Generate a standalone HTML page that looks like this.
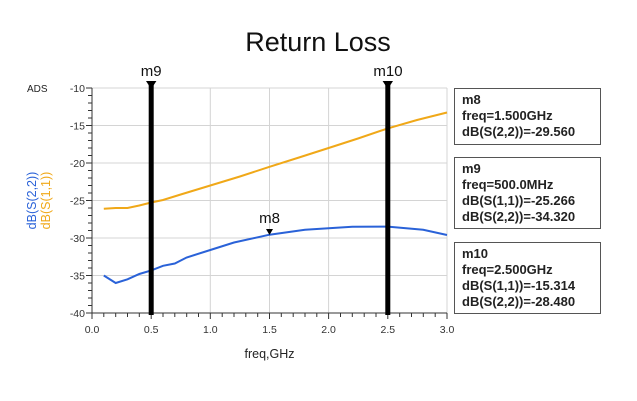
<!DOCTYPE html>
<html><head><meta charset="utf-8"><style>
html,body{margin:0;padding:0;background:#fff;}
svg{display:block;font-family:"Liberation Sans",sans-serif;}
</style></head><body>
<svg width="637" height="401" viewBox="0 0 637 401" xmlns="http://www.w3.org/2000/svg">
<rect width="637" height="401" fill="#fff"/>
<text x="318" y="51" font-size="27" text-anchor="middle" fill="#111">Return Loss</text>
<text x="27" y="92" font-size="10" fill="#222">ADS</text>
<g stroke="#d4d4d4" stroke-width="1">
<line x1="92" y1="88" x2="447" y2="88"/>
<line x1="92" y1="125.5" x2="447" y2="125.5"/>
<line x1="92" y1="163" x2="447" y2="163"/>
<line x1="92" y1="200.5" x2="447" y2="200.5"/>
<line x1="92" y1="238" x2="447" y2="238"/>
<line x1="92" y1="275.5" x2="447" y2="275.5"/>
<line x1="151.2" y1="88" x2="151.2" y2="313"/>
<line x1="210.3" y1="88" x2="210.3" y2="313"/>
<line x1="269.5" y1="88" x2="269.5" y2="313"/>
<line x1="328.6" y1="88" x2="328.6" y2="313"/>
<line x1="387.8" y1="88" x2="387.8" y2="313"/>
<line x1="447" y1="88" x2="447" y2="313"/>
</g>
<g stroke="#333" stroke-width="1">
<line x1="92" y1="88" x2="92" y2="313"/>
<line x1="92" y1="313" x2="447" y2="313"/>
</g>
<g stroke="#333" stroke-width="1">
<path d="M86 88H92M88 95.5H92M88 103H92M88 110.5H92M88 118H92M86 125.5H92M88 133H92M88 140.5H92M88 148H92M88 155.5H92M86 163H92M88 170.5H92M88 178H92M88 185.5H92M88 193H92M86 200.5H92M88 208H92M88 215.5H92M88 223H92M88 230.5H92M86 238H92M88 245.5H92M88 253H92M88 260.5H92M88 268H92M86 275.5H92M88 283H92M88 290.5H92M88 298H92M88 305.5H92M86 313H92"/>
<path d="M92 313V319M103.8 313V317M115.7 313V317M127.5 313V317M139.3 313V317M151.2 313V319M163 313V317M174.8 313V317M186.7 313V317M198.5 313V317M210.3 313V319M222.2 313V317M234 313V317M245.8 313V317M257.7 313V317M269.5 313V319M281.3 313V317M293.2 313V317M305 313V317M316.8 313V317M328.6 313V319M340.5 313V317M352.3 313V317M364.2 313V317M376 313V317M387.8 313V319M399.7 313V317M411.5 313V317M423.3 313V317M435.2 313V317M447 313V319"/>
</g>
<g font-size="10.5" fill="#333" text-anchor="end">
<text x="85" y="92">-10</text><text x="85" y="129.5">-15</text><text x="85" y="167">-20</text>
<text x="85" y="204.5">-25</text><text x="85" y="242">-30</text><text x="85" y="279.5">-35</text><text x="85" y="317">-40</text>
</g>
<g font-size="10.5" fill="#333" text-anchor="middle">
<text x="92" y="333">0.0</text><text x="151.2" y="333">0.5</text><text x="210.3" y="333">1.0</text>
<text x="269.5" y="333">1.5</text><text x="328.6" y="333">2.0</text><text x="387.8" y="333">2.5</text><text x="447" y="333">3.0</text>
</g>
<text x="269.5" y="358" font-size="12.5" text-anchor="middle" fill="#222">freq,GHz</text>
<text transform="translate(36,200.5) rotate(-90)" font-size="12.5" text-anchor="middle" fill="#2a62d8">dB(S(2,2))</text>
<text transform="translate(50,200.5) rotate(-90)" font-size="12.5" text-anchor="middle" fill="#f0a818">dB(S(1,1))</text>
<polyline fill="none" stroke="#f0a818" stroke-width="2" points="103.8,208.8 115.7,208 127.5,208 139.3,205.5 151.2,202.5 163,200 180.7,194.5 210.3,185.5 239.9,176.5 269.5,166.8 299,157.5 328.6,148 358,138.5 387.8,128.4 417,120 447,112.5"/>
<polyline fill="none" stroke="#2a62d8" stroke-width="2" points="103.8,275.5 115.7,283 127.5,279.3 139.3,274 151.2,270.4 163,265.8 174.8,263.5 186.6,257.5 210.3,250 234,242.5 269.5,234.7 305,229.8 328.6,228.3 352.3,226.8 387.8,226.6 423.2,229.8 447,235"/>
<line x1="151.2" y1="84" x2="151.2" y2="315" stroke="#000" stroke-width="5"/>
<polygon points="146,81 156.4,81 151.2,89" fill="#000"/>
<line x1="387.8" y1="84" x2="387.8" y2="315" stroke="#000" stroke-width="5"/>
<polygon points="382.6,81 393,81 387.8,89" fill="#000"/>
<text x="151.2" y="76" font-size="15" text-anchor="middle" fill="#111">m9</text>
<text x="388" y="76" font-size="15" text-anchor="middle" fill="#111">m10</text>
<polygon points="266,229 273,229 269.5,235" fill="#000"/>
<text x="269.5" y="223" font-size="15" text-anchor="middle" fill="#111">m8</text>
<g fill="#fff" stroke="#555" stroke-width="1">
<rect x="454.5" y="88.5" width="146" height="56"/>
<rect x="454.5" y="157.5" width="146" height="71"/>
<rect x="454.5" y="242.5" width="146" height="71"/>
</g>
<g font-size="13" font-weight="bold" fill="#222">
<text x="462" y="104">m8</text><text x="462" y="120">freq=1.500GHz</text><text x="462" y="136">dB(S(2,2))=-29.560</text>
<text x="462" y="173">m9</text><text x="462" y="189">freq=500.0MHz</text><text x="462" y="205">dB(S(1,1))=-25.266</text><text x="462" y="221">dB(S(2,2))=-34.320</text>
<text x="462" y="258">m10</text><text x="462" y="274">freq=2.500GHz</text><text x="462" y="290">dB(S(1,1))=-15.314</text><text x="462" y="306">dB(S(2,2))=-28.480</text>
</g>
</svg>
</body></html>
